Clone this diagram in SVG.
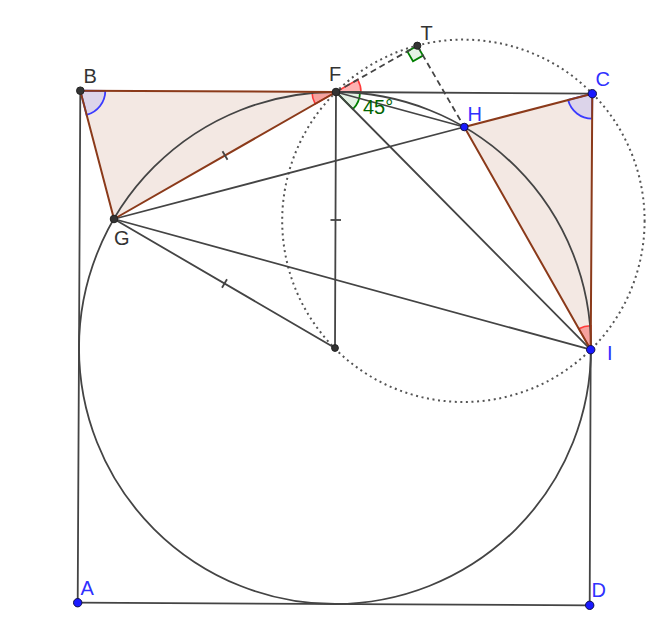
<svg xmlns="http://www.w3.org/2000/svg" width="663" height="631" viewBox="0 0 663 631">
<style>
.ln{stroke:#444;stroke-width:1.8;fill:none;stroke-linecap:round}
.br{stroke:#8b3a1a;stroke-width:2;fill:none;stroke-linecap:round}
.tri{fill:#f3e8e3;stroke:none}
.dash{stroke:#444;stroke-width:1.8;fill:none;stroke-dasharray:6 4}
.dot{stroke:#555;stroke-width:2;fill:none;stroke-dasharray:2 3.6}
.tk{stroke:#444;stroke-width:1.8}
.ang-b{fill:#dcd4ea;stroke:#3a3aff;stroke-width:1.8}
.ang-r{fill:#ff0000;fill-opacity:0.3;stroke:#ff3a3a;stroke-width:1.6}
.ang-g{fill:#007f00;fill-opacity:0.1;stroke:#007f00;stroke-width:1.8}
.pk{fill:#333;stroke:#222;stroke-width:1}
.pb{fill:#1a1aff;stroke:#10104a;stroke-width:1}
.lk{font-family:"Liberation Sans",Arial,sans-serif;font-size:20px;fill:#333}
.lb{font-family:"Liberation Sans",Arial,sans-serif;font-size:20px;fill:#3030ff}
.lg{font-family:"Liberation Sans",Arial,sans-serif;font-size:20px;fill:#006400}
</style>
<rect width="663" height="631" fill="#fff"/>
<g id="fills">
<polygon class="tri" points="80.3,90.7 336,92 114,219"/>
<polygon class="tri" points="464.3,127 592.3,93.7 590.7,349.7"/>
</g>
<g id="angles">
<path class="ang-b" d="M80.3,90.7 L105.3,90.8 A25,25 0 0 1 86.6,114.9 Z"/>
<path class="ang-b" d="M592.3,93.7 L568.1,100 A25,25 0 0 0 592.1,118.7 Z"/>
<path class="ang-r" d="M336,92 L312,92.1 A24,24 0 0 0 315.2,103.9 Z"/>
<path class="ang-r" d="M336,92 L357.7,79.6 A25,25 0 0 1 361,92.2 Z"/>
<path class="ang-g" d="M336,92 L360,92.2 A24,24 0 0 1 352.9,109.1 Z"/>
<path class="ang-r" d="M590.7,349.7 L578.85,328.8 A24,24 0 0 1 590.9,325.7 Z"/>
<path d="M417.3,45.7 L407.3,51.4 L413,61.3 L423,55.6 Z" fill="#007f00" fill-opacity="0.1" stroke="#007f00" stroke-width="1.8"/>
</g>
<g id="connectors">
<circle class="ln" cx="335" cy="348" r="256"/>
<circle class="dot" cx="463.4" cy="220.8" r="181.2"/>
<line class="ln" x1="80.3" y1="90.7" x2="77.7" y2="602.7"/>
<line class="ln" x1="77.7" y1="602.7" x2="589.7" y2="605.3"/>
<line class="ln" x1="589.7" y1="605.3" x2="590.7" y2="349.7"/>
<line class="ln" x1="336" y1="92" x2="592.3" y2="93.7"/>
<line class="ln" x1="336" y1="92" x2="335" y2="348"/>
<line class="ln" x1="114" y1="219" x2="335" y2="348"/>
<line class="ln" x1="114" y1="219" x2="464.3" y2="127"/>
<line class="ln" x1="114" y1="219" x2="590.7" y2="349.7"/>
<line class="ln" x1="336" y1="92" x2="590.7" y2="349.7"/>
<line class="ln" x1="336" y1="92" x2="464.3" y2="127"/>
<line class="dash" x1="336" y1="92" x2="417.3" y2="45.7"/>
<line class="dash" x1="417.3" y1="45.7" x2="464.3" y2="127"/>
<line class="br" x1="80.3" y1="90.7" x2="336" y2="92"/>
<line class="br" x1="336" y1="92" x2="114" y2="219"/>
<line class="br" x1="80.3" y1="90.7" x2="114" y2="219" stroke="#4a2010"/>
<line class="br" x1="464.3" y1="127" x2="592.3" y2="93.7"/>
<line class="br" x1="592.3" y1="93.7" x2="590.7" y2="349.7"/>
<line class="br" x1="464.3" y1="127" x2="590.7" y2="349.7"/>
<line class="tk" x1="222.5" y1="151.2" x2="227.5" y2="159.8"/>
<line class="tk" x1="222" y1="287.8" x2="227" y2="279.2"/>
<line class="tk" x1="330.5" y1="220" x2="341" y2="220"/>
</g>
<g id="B"><circle class="pk" cx="80.3" cy="90.7" r="3.8"/><text class="lk" x="83.6" y="83">B</text></g>
<g id="F"><circle class="pk" cx="336" cy="92" r="3.8"/><text class="lk" x="329" y="81">F</text></g>
<g id="T"><circle class="pk" cx="417.3" cy="45.7" r="3.6"/><text class="lk" x="420.4" y="39.5">T</text></g>
<g id="G"><circle class="pk" cx="114" cy="219" r="3.8"/><text class="lk" x="114" y="245">G</text></g>
<g id="O"><circle class="pk" cx="335" cy="348" r="3.4"/></g>
<g id="C"><circle class="pb" cx="592.3" cy="93.7" r="4.2"/><text class="lb" x="595.5" y="86">C</text></g>
<g id="H"><circle class="pb" cx="464.3" cy="127" r="3.8"/><text class="lb" x="467.6" y="120.7">H</text></g>
<g id="I"><circle class="pb" cx="590.7" cy="349.7" r="4.2"/><text class="lb" x="607" y="360">I</text></g>
<g id="A"><circle class="pb" cx="77.7" cy="602.7" r="4.2"/><text class="lb" x="80.5" y="595.3">A</text></g>
<g id="D"><circle class="pb" cx="589.7" cy="605.3" r="4.2"/><text class="lb" x="591.6" y="596.7">D</text></g>
<g id="angle45"><text class="lg" x="363" y="113.5">45°</text></g>
</svg>
